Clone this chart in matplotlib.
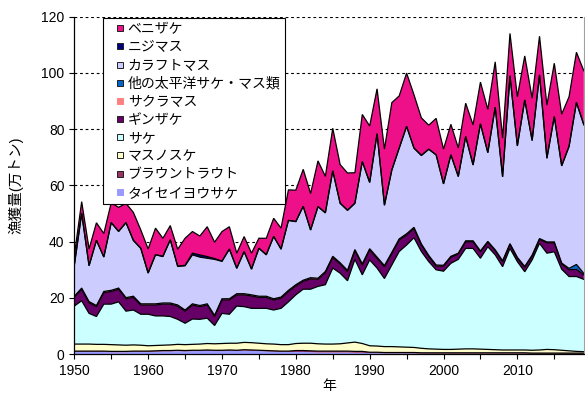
import numpy as np
import matplotlib
matplotlib.use("Agg")
import matplotlib.pyplot as plt
from matplotlib.lines import Line2D

plt.rcParams['font.family'] = ['Liberation Sans', 'Noto Sans CJK JP']

years = list(range(1950, 2020))

# catch by species, 10,000 t (bottom of the stack first)
atlantic = [0.8, 0.8, 0.8, 0.8, 0.8, 0.7, 0.7, 0.7, 0.8, 0.8,
            0.8, 0.9, 1.0, 1.0, 1.1, 1.0, 1.1, 1.1, 1.2, 1.1,
            1.1, 1.2, 1.1, 1.3, 1.2, 1.1, 1.0, 0.9, 0.8, 0.8,
            0.8, 0.8, 0.7, 0.6, 0.6, 0.6, 0.6, 0.6, 0.5, 0.5,
            0.4, 0.4, 0.3, 0.3, 0.3, 0.3, 0.3, 0.2, 0.2, 0.2,
            0.2, 0.2, 0.2, 0.2, 0.2, 0.2, 0.2, 0.2, 0.2, 0.2,
            0.2, 0.2, 0.1, 0.1, 0.1, 0.1, 0.1, 0.1, 0.1, 0.1]
brown = [0.3, 0.3, 0.3, 0.3, 0.3, 0.3, 0.3, 0.3, 0.3, 0.3,
         0.3, 0.3, 0.3, 0.3, 0.3, 0.3, 0.3, 0.3, 0.3, 0.3,
         0.3, 0.3, 0.3, 0.3, 0.3, 0.3, 0.3, 0.3, 0.3, 0.3,
         0.5, 0.5, 0.5, 0.5, 0.5, 0.5, 0.5, 0.5, 0.5, 0.5,
         0.3, 0.3, 0.3, 0.3, 0.3, 0.3, 0.3, 0.3, 0.3, 0.3,
         0.3, 0.3, 0.3, 0.3, 0.3, 0.3, 0.3, 0.3, 0.3, 0.3,
         0.3, 0.3, 0.3, 0.3, 0.3, 0.3, 0.3, 0.3, 0.3, 0.3]
chinook = [2.5, 2.5, 2.5, 2.4, 2.4, 2.4, 2.3, 2.2, 2.2, 2.1,
           1.9, 1.9, 1.9, 2.0, 2.1, 2.1, 2.1, 2.2, 2.3, 2.3,
           2.4, 2.4, 2.5, 2.6, 2.6, 2.5, 2.4, 2.4, 2.3, 2.3,
           2.5, 2.6, 2.7, 2.6, 2.5, 2.5, 2.6, 2.9, 3.3, 2.8,
           2.3, 2.2, 2.1, 2.1, 2.0, 1.9, 1.8, 1.6, 1.4, 1.3,
           1.2, 1.2, 1.3, 1.4, 1.4, 1.3, 1.2, 1.1, 1.0, 1.0,
           1.0, 1.0, 1.0, 1.1, 1.3, 1.2, 1.0, 0.8, 0.6, 0.5]
chum = [13.5, 15.4, 10.9, 9.9, 14.3, 14.4, 15.3, 12.1, 12.4, 11.0,
        11.2, 10.5, 10.4, 10.1, 8.9, 7.6, 9.0, 8.8, 9.0, 6.5,
        10.7, 10.3, 13.2, 12.7, 12.2, 12.4, 12.6, 12.1, 12.9, 15.2,
        17.3, 19.2, 19.2, 20.4, 21.1, 27.0, 25.1, 22.1, 29.4, 24.4,
        30.5, 27.7, 24.2, 29.0, 33.9, 36.3, 39.0, 34.4, 31.0, 28.2,
        27.8, 30.6, 31.9, 35.7, 35.7, 32.3, 36.5, 33.7, 29.6, 36.1,
        31.4, 27.8, 32.1, 37.9, 34.2, 34.8, 28.8, 26.4, 26.6, 25.7]
coho = [3.1, 4.1, 3.8, 3.5, 4.1, 4.5, 4.5, 4.4, 4.5, 3.3,
        3.3, 3.9, 4.2, 4.4, 4.7, 4.3, 5.0, 4.5, 4.7, 3.2,
        4.8, 5.1, 4.0, 4.2, 4.4, 3.9, 3.9, 3.6, 3.6, 3.7,
        3.2, 2.8, 3.7, 2.5, 4.3, 3.8, 3.3, 3.3, 3.1, 3.5,
        3.6, 3.5, 4.2, 4.1, 4.1, 3.6, 3.3, 2.3, 1.8, 1.3,
        1.8, 2.2, 1.9, 2.4, 2.4, 2.3, 1.6, 1.5, 1.8, 1.4,
        1.2, 1.6, 1.4, 1.4, 3.7, 3.2, 1.9, 2.4, 2.6, 1.6]
masu = [0.3, 0.3, 0.3, 0.3, 0.3, 0.3, 0.3, 0.3, 0.3, 0.3,
        0.3, 0.3, 0.3, 0.3, 0.3, 0.3, 0.3, 0.3, 0.3, 0.3,
        0.3, 0.3, 0.3, 0.3, 0.3, 0.3, 0.3, 0.3, 0.3, 0.3,
        0.3, 0.3, 0.3, 0.3, 0.3, 0.3, 0.3, 0.3, 0.3, 0.3,
        0.3, 0.3, 0.3, 0.3, 0.3, 0.3, 0.3, 0.3, 0.3, 0.3,
        0.2, 0.2, 0.2, 0.2, 0.2, 0.2, 0.2, 0.2, 0.2, 0.2,
        0.2, 0.2, 0.2, 0.2, 0.2, 0.2, 0.2, 0.2, 0.2, 0.2]
other_pacific = [0.1, 0.1, 0.1, 0.1, 0.1, 0.1, 0.1, 0.1, 0.1, 0.1,
                 0.1, 0.1, 0.1, 0.1, 0.1, 0.1, 0.1, 0.1, 0.1, 0.1,
                 0.1, 0.1, 0.1, 0.1, 0.1, 0.1, 0.1, 0.1, 0.1, 0.1,
                 0.1, 0.1, 0.1, 0.1, 0.1, 0.1, 0.1, 0.1, 0.1, 0.1,
                 0.1, 0.1, 0.1, 0.1, 0.1, 0.1, 0.1, 0.1, 0.1, 0.1,
                 0.1, 0.1, 0.1, 0.1, 0.1, 0.1, 0.1, 0.1, 0.1, 0.1,
                 0.1, 0.1, 0.1, 0.1, 0.1, 0.1, 0.1, 0.3, 1.5, 0.3]
pink = [10.9, 26.5, 12.7, 23.1, 12.2, 24.0, 20.1, 26.6, 19.8, 19.7,
        10.9, 17.4, 16.5, 22.4, 13.7, 15.7, 17.4, 17.2, 16.2, 19.9,
        13.3, 17.6, 9.0, 14.9, 9.1, 17.0, 14.7, 22.1, 17.0, 24.8,
        22.4, 26.2, 16.9, 25.4, 20.8, 30.3, 21.1, 21.3, 16.4, 36.3,
        23.5, 43.8, 21.4, 29.2, 32.2, 38.1, 28.1, 31.4, 37.7, 39.1,
        28.9, 36.0, 27.2, 37.0, 26.9, 45.1, 31.5, 50.6, 29.8, 59.6,
        39.6, 59.1, 40.7, 58.1, 29.7, 44.5, 34.5, 43.3, 57.5, 52.8]
rainbow = [0.1, 0.1, 0.1, 0.1, 0.1, 0.1, 0.1, 0.1, 0.1, 0.1,
           0.1, 0.1, 0.1, 0.1, 0.1, 0.2, 0.6, 0.8, 0.6, 0.3,
           0.1, 0.1, 0.1, 0.1, 0.1, 0.1, 0.1, 0.1, 0.1, 0.1,
           0.1, 0.1, 0.1, 0.1, 0.1, 0.1, 0.1, 0.1, 0.1, 0.1,
           0.1, 0.1, 0.1, 0.1, 0.1, 0.1, 0.1, 0.1, 0.1, 0.1,
           0.1, 0.1, 0.1, 0.1, 0.1, 0.1, 0.1, 0.1, 0.1, 0.1,
           0.1, 0.1, 0.1, 0.1, 0.1, 0.1, 0.1, 0.1, 0.1, 0.1]
sockeye = [3.4, 4.1, 5.9, 6.2, 8.3, 7.0, 8.5, 6.8, 9.9, 6.5,
           8.5, 9.4, 6.4, 5.0, 6.0, 9.6, 7.7, 6.7, 10.6, 5.8,
           10.5, 7.9, 5.3, 5.3, 5.6, 3.5, 5.8, 6.4, 7.4, 10.8,
           11.1, 13.1, 12.9, 16.2, 12.9, 15.1, 13.7, 13.2, 10.8, 16.7,
           20.0, 15.9, 19.9, 23.9, 18.5, 18.9, 18.9, 13.3, 8.5, 12.9,
           12.3, 10.8, 10.1, 11.8, 14.2, 14.8, 15.3, 16.1, 13.7, 15.0,
           17.4, 15.6, 15.0, 13.7, 18.8, 18.9, 18.3, 17.6, 17.8, 19.1]

names = ['タイセイヨウサケ', 'ブラウントラウト', 'マスノスケ', 'サケ', 'ギンザケ',
         'サクラマス', '他の太平洋サケ・マス類', 'カラフトマス', 'ニジマス', 'ベニザケ']
series = [atlantic, brown, chinook, chum, coho, masu, other_pacific, pink, rainbow, sockeye]
colors = ['#9999FF', '#993366', '#FFFFCC', '#CCFFFF', '#660066',
          '#FF8080', '#0066CC', '#CCCCFF', '#000080', '#EE1089']
outlined = [False, True, True, True, True, False, True, True, True, True]

fig = plt.figure(figsize=(5.85, 3.94), dpi=100)
ax = fig.add_axes([0.127, 0.101, 0.871, 0.857])

ax.stackplot(years, *series, colors=colors, linewidth=0)

# black outline along the top of each band
tops = np.cumsum(np.array(series), axis=0)
for top, edge in zip(tops, outlined):
    if edge:
        ax.plot(years, top, color='black', lw=0.9, solid_joinstyle='miter')

ax.set_xlim(1950, 2019)
ax.set_ylim(0, 120)
ax.set_yticks(range(0, 121, 20))
xt = list(range(1950, 2020, 5))
ax.set_xticks(xt)
ax.set_xticklabels([str(y) if y % 10 == 0 else '' for y in xt])
ax.tick_params(direction='out', length=3.5, width=0.8, labelsize=10, color='black')

ax.set_axisbelow(True)
ax.yaxis.grid(True, color='black', linestyle=(0, (2.5, 2.5)), linewidth=0.8)
ax.spines['top'].set_visible(False)
ax.spines['right'].set_color('#a0a0a0')
ax.spines['left'].set_linewidth(0.9)
ax.spines['bottom'].set_linewidth(0.9)

ax.set_xlabel('年', fontsize=10, labelpad=1)
ax.set_ylabel('漁獲量(万トン)', fontsize=10.5, labelpad=13)

handles = [Line2D([], [], linestyle='none', marker='s', markersize=4.6,
                  markerfacecolor=c, markeredgecolor=('#202020' if e else c),
                  markeredgewidth=0.7)
           for c, e in zip(colors, outlined)]
leg = ax.legend(handles[::-1], names[::-1], loc='upper left',
                bbox_to_anchor=(0.057, 0.996), borderaxespad=0,
                fontsize=10, frameon=True, fancybox=False, framealpha=1,
                edgecolor='black', handlelength=1.8, handletextpad=-0.35,
                labelspacing=0.3, borderpad=0.3)
leg.get_frame().set_linewidth(0.8)

fig.savefig('out.png', dpi=100)
